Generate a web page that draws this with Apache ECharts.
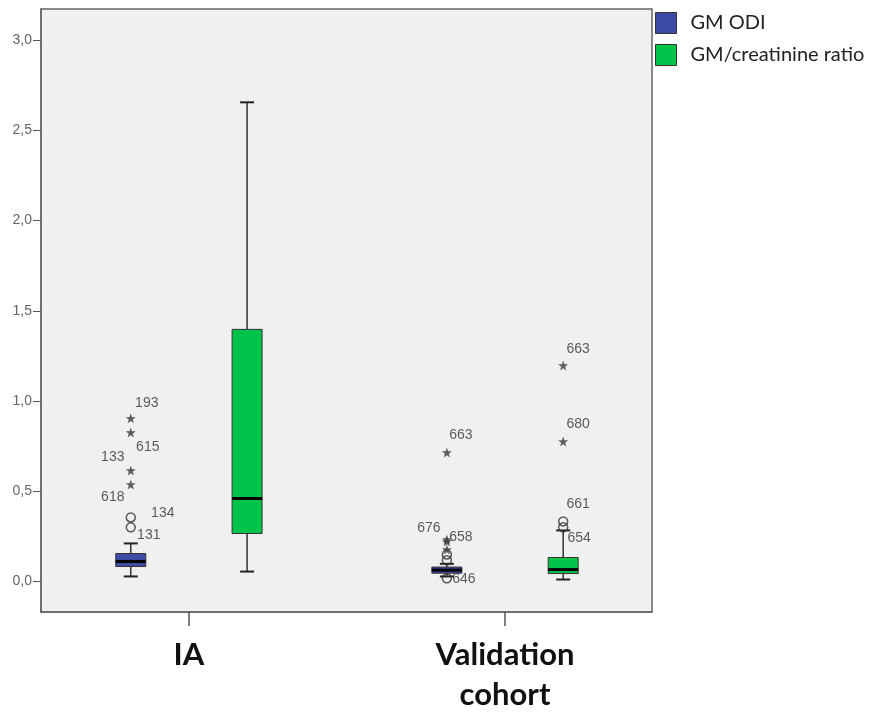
<!DOCTYPE html>
<html>
<head>
<meta charset="utf-8">
<script src="https://cdn.jsdelivr.net/npm/echarts@6/dist/echarts.min.js"></script>
<style>
  html, body { margin: 0; padding: 0; background: #fff; }
  #chart { width: 877px; height: 718px; }
</style>
</head>
<body>
<div id="chart"></div>
<script>
// 组别 (x轴位置 1, 2)
const categories = ['IA', 'Validation\ncohort'];
const categoryPos = [1, 2];
const yTicks = [0, 0.5, 1.0, 1.5, 2.0, 2.5, 3.0];

// 箱线数据: [min, Q1, median, Q3, max]
const odiBoxes = [
    [0.028, 0.083, 0.111, 0.155, 0.211],
    [0.028, 0.046, 0.063, 0.080, 0.098]
];
const ratioBoxes = [
    [0.055, 0.266, 0.460, 1.397, 2.655],
    [0.011, 0.044, 0.066, 0.133, 0.283]
];

// 离群点: [组别索引, 数值, 编号, 类型]
const odiOutliers = [
    [0, 0.904, '193', 'star'],
    [0, 0.826, '615', 'star'],
    [0, 0.615, '133', 'star'],
    [0, 0.538, '618', 'star'],
    [0, 0.355, '134', 'circle'],
    [0, 0.300, '131', 'circle'],
    [1, 0.715, '663', 'star'],
    [1, 0.233, '676', 'star'],
    [1, 0.222, '658', 'star'],
    [1, 0.177, '', 'star'],
    [1, 0.150, '', 'circle'],
    [1, 0.118, '', 'circle'],
    [1, 0.018, '646', 'circle']
];
const ratioOutliers = [
    [1, 1.197, '663', 'star'],
    [1, 0.776, '680', 'star'],
    [1, 0.333, '661', 'circle'],
    [1, 0.300, '654', 'circle']
];

// 标签相对位置 (像素)
const labelOffsets = {
    odi: { '193': [16, -15], '615': [17, 15], '133': [-18, -13], '618': [-18, 13],
           '134': [32, -4], '131': [18, 8], '663': [14, -17], '676': [-18, -11],
           '658': [14, -4], '646': [17, 1] },
    ratio: { '663': [15, -16], '680': [15, -17], '661': [15, -17], '654': [16, 11] }
};

const boxOffset = 0.184;   // 组内偏移 (x轴单位)
const BOX_WIDTH = 30;
const CAP_WIDTH = 14;
const STAR = 'path://M0,-10L2.35,-3.24L9.51,-3.09L3.8,1.24L5.88,8.09L0,4L-5.88,8.09L-3.8,1.24L-9.51,-3.09L-2.35,-3.24Z';

function renderBox(params, api) {
    const x = api.value(0);
    const lo = api.coord([x, api.value(1)]);
    const q1 = api.coord([x, api.value(2)]);
    const med = api.coord([x, api.value(3)]);
    const q3 = api.coord([x, api.value(4)]);
    const hi = api.coord([x, api.value(5)]);
    const cx = lo[0];
    const line = { stroke: '#333', lineWidth: 1.5 };
    const cap = { stroke: '#222', lineWidth: 2 };
    return {
        type: 'group',
        children: [
            { type: 'line', shape: { x1: cx, y1: hi[1], x2: cx, y2: q3[1] }, style: line },
            { type: 'line', shape: { x1: cx, y1: q1[1], x2: cx, y2: lo[1] }, style: line },
            { type: 'line', shape: { x1: cx - CAP_WIDTH / 2, y1: hi[1], x2: cx + CAP_WIDTH / 2, y2: hi[1] }, style: cap },
            { type: 'line', shape: { x1: cx - CAP_WIDTH / 2, y1: lo[1], x2: cx + CAP_WIDTH / 2, y2: lo[1] }, style: cap },
            { type: 'rect', shape: { x: cx - BOX_WIDTH / 2, y: q3[1], width: BOX_WIDTH, height: q1[1] - q3[1] },
              style: { fill: api.visual('color'), stroke: '#333', lineWidth: 1 } },
            { type: 'line', shape: { x1: cx - BOX_WIDTH / 2, y1: med[1], x2: cx + BOX_WIDTH / 2, y2: med[1] },
              style: { stroke: '#000', lineWidth: 3 } }
        ]
    };
}

function boxData(boxes, shift) {
    return boxes.map((b, i) => [categoryPos[i] + shift].concat(b));
}

function outlierData(list, shift, offsets) {
    return list.map(o => ({
        value: [categoryPos[o[0]] + shift, o[1]],
        symbol: o[3] === 'star' ? STAR : 'circle',
        symbolSize: o[3] === 'star' ? 10 : 9,
        itemStyle: o[3] === 'star'
            ? { color: '#3a3a3a', borderWidth: 0 }
            : { color: 'rgba(0,0,0,0)', borderColor: '#333', borderWidth: 1.5 },
        label: {
            show: o[2] !== '',
            formatter: o[2],
            offset: offsets[o[2]] || [0, 0]
        }
    }));
}

const outlierLabel = {
    position: 'inside',
    fontFamily: 'Liberation Sans',
    fontSize: 14,
    color: '#333'
};

const chart = echarts.init(document.getElementById('chart'));
chart.setOption({
    animation: false,
    grid: {
        left: 41, right: 225, top: 9, bottom: 106,
        show: true,
        backgroundColor: '#f0f0f0',
        borderColor: '#666',
        borderWidth: 1.5
    },
    legend: {
        orient: 'vertical',
        left: 655,
        top: 12,
        padding: 0,
        itemWidth: 21,
        itemHeight: 21,
        itemGap: 10,
        icon: 'rect',
        itemStyle: { borderColor: '#333', borderWidth: 1 },
        textStyle: { fontFamily: 'Lato', fontSize: 20, color: '#222', padding: [0, 0, 0, 9] },
        data: ['GM ODI', 'GM/creatinine ratio']
    },
    xAxis: {
        type: 'value',
        min: 0.532,
        max: 2.465,
        splitLine: { show: false },
        axisLine: { show: true, onZero: false, lineStyle: { color: '#666', width: 1.5 } },
        axisTick: { show: true, length: 14, customValues: categoryPos, lineStyle: { color: '#555', width: 1.5 } },
        axisLabel: {
            customValues: categoryPos,
            formatter: v => categories[categoryPos.indexOf(v)] || '',
            margin: 23,
            fontFamily: 'Lato',
            fontWeight: 'bold',
            fontSize: 31,
            lineHeight: 40,
            color: '#111'
        }
    },
    yAxis: {
        type: 'value',
        min: -0.169,
        max: 3.172,
        splitLine: { show: false },
        axisLine: { show: true, onZero: false, lineStyle: { color: '#666', width: 1.5 } },
        axisTick: { show: true, length: 8, customValues: yTicks, lineStyle: { color: '#555' } },
        axisLabel: {
            customValues: yTicks,
            formatter: v => v.toFixed(1).replace('.', ','),
            margin: 9,
            fontFamily: 'Liberation Sans',
            fontSize: 14,
            color: '#666'
        }
    },
    series: [
        {
            name: 'GM ODI',
            type: 'custom',
            renderItem: renderBox,
            itemStyle: { color: '#3d4aa6' },
            encode: { x: 0, y: [1, 2, 3, 4, 5] },
            data: boxData(odiBoxes, -boxOffset)
        },
        {
            name: 'GM/creatinine ratio',
            type: 'custom',
            renderItem: renderBox,
            itemStyle: { color: '#00c44a' },
            encode: { x: 0, y: [1, 2, 3, 4, 5] },
            data: boxData(ratioBoxes, boxOffset)
        },
        {
            name: 'odiOutliers',
            type: 'scatter',
            label: outlierLabel,
            data: outlierData(odiOutliers, -boxOffset, labelOffsets.odi)
        },
        {
            name: 'ratioOutliers',
            type: 'scatter',
            label: outlierLabel,
            data: outlierData(ratioOutliers, boxOffset, labelOffsets.ratio)
        }
    ]
});
</script>
</body>
</html>
